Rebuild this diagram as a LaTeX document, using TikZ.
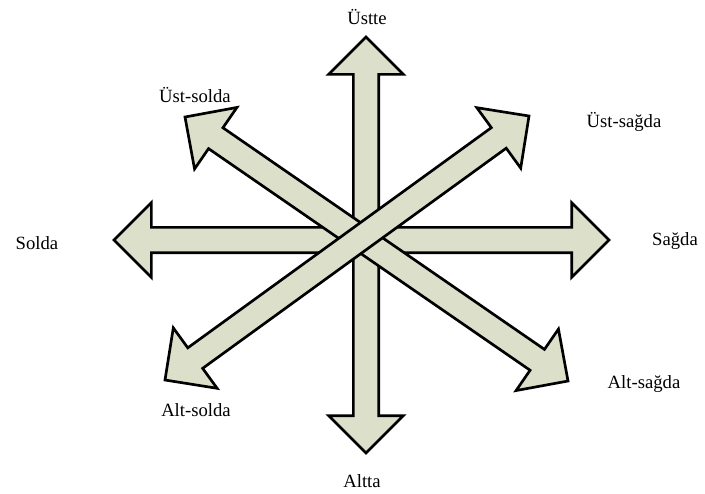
\documentclass[tikz,border=0pt]{standalone}
\usepackage{fontspec}
\setmainfont{Liberation Serif}
\usetikzlibrary{calc}
\definecolor{arrowfill}{RGB}{220,223,202}
\tikzset{
  blockarrow/.style={draw=black, fill=arrowfill, line width=2pt},
  lbl/.style={font=\fontsize{14}{16}\selectfont, inner sep=0pt}
}
\newcommand{\hdlen}{28pt}
\newcommand{\hdwid}{28pt}
\newcommand{\shwid}{9.5pt}
% double block arrow between two named coordinates
\newcommand{\dblarrow}[2]{%
  \coordinate (#1-h) at ($(#1)!\hdlen!(#2)$);
  \coordinate (#2-h) at ($(#2)!\hdlen!(#1)$);
  \draw[blockarrow] (#1) -- ($(#1-h)!\hdwid!90:(#2)$) -- ($(#1-h)!\shwid!90:(#2)$)
    -- ($(#2-h)!\shwid!-90:(#1)$) -- ($(#2-h)!\hdwid!-90:(#1)$) -- (#2)
    -- ($(#2-h)!\hdwid!90:(#1)$) -- ($(#2-h)!\shwid!90:(#1)$)
    -- ($(#1-h)!\shwid!-90:(#2)$) -- ($(#1-h)!\hdwid!-90:(#2)$) -- cycle;
}
\begin{document}
\begin{tikzpicture}[x=0.75pt,y=-0.75pt]
\useasboundingbox (0,0) rectangle (705,493);
% arrow ends
\coordinate (vt) at (366,37);
\coordinate (vb) at (366,453);
\coordinate (hl) at (114,240);
\coordinate (hr) at (609,240);
\coordinate (dul) at (185,117);
\coordinate (dlr) at (568,381);
\coordinate (dll) at (165,380);
\coordinate (dur) at (529,116);
\dblarrow{vt}{vb}
\dblarrow{hl}{hr}
\dblarrow{dul}{dlr}
\dblarrow{dll}{dur}
% labels
\node[lbl] (top) at (367,17) {Üstte};
\node[lbl] (topleft) at (195,95) {Üst-solda};
\node[lbl] (topright) at (624,122) {Üst-sağda};
\node[lbl] (left) at (37,243) {Solda};
\node[lbl] (right) at (675,241) {Sağda};
\node[lbl] (botleft) at (196,410) {Alt-solda};
\node[lbl] (botright) at (644,384) {Alt-sağda};
\node[lbl] (bot) at (362,481) {Altta};
\end{tikzpicture}
\end{document}
